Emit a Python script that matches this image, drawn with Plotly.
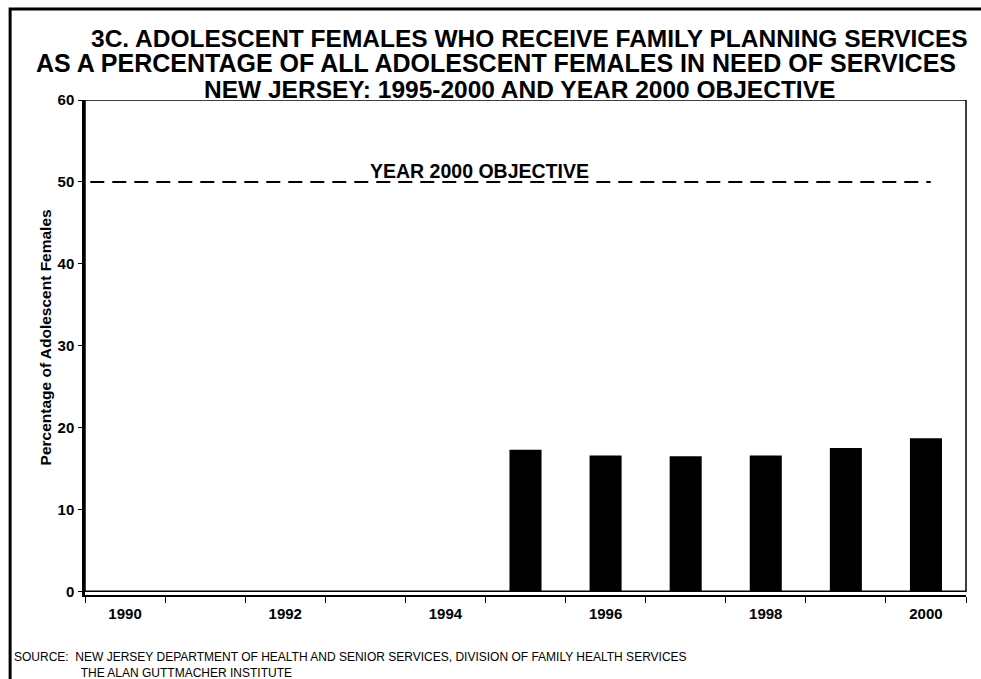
import plotly.graph_objects as go

# Adolescent females receiving family planning services, New Jersey
years = [str(y) for y in range(1990, 2001)]
pct_served = [None, None, None, None, None, 17.3, 16.6, 16.5, 16.6, 17.5, 18.7]
objective_2000 = 50
tick_labels = [y if int(y) % 2 == 0 else "" for y in years]
y_ticks = [0, 10, 20, 30, 40, 50, 60]

FONT = "Liberation Sans, Arial, sans-serif"

fig = go.Figure()
fig.add_trace(go.Bar(
    x=years, y=pct_served, width=0.4,
    marker=dict(color="black", line=dict(color="black", width=0)),
    showlegend=False, hoverinfo="x+y",
))

fig.update_layout(
    width=981, height=679,
    margin=dict(l=85, r=15, t=100, b=84),
    paper_bgcolor="white", plot_bgcolor="white",
    font=dict(family=FONT, color="black"),
    bargap=0.6,
    xaxis=dict(
        type="category", tickmode="array", tickvals=years, ticktext=tick_labels,
        tickson="boundaries", ticks="outside", ticklen=6, tickwidth=1, tickcolor="black",
        showline=True, linecolor="black", linewidth=1.5,
        showgrid=False, zeroline=False, ticklabelstandoff=4,
        tickfont=dict(size=15, family=FONT, color="black", weight="bold"),
        range=[-0.5, 10.5],
    ),
    yaxis=dict(
        range=[-0.45, 60], tickvals=y_ticks, ticks="outside", ticklen=4,
        tickcolor="black", tickwidth=1,
        showline=True, linecolor="black", linewidth=2.5,
        showgrid=False, zeroline=False, ticklabelstandoff=1,
        tickfont=dict(size=15, family=FONT, color="black", weight="bold"),
    ),
)

# y-axis caption
fig.add_annotation(text="<b>Percentage of Adolescent Females</b>", textangle=-90,
                   xref="paper", yref="paper", x=-0.045, y=0.521,
                   xanchor="center", yanchor="middle", showarrow=False,
                   font=dict(size=15.5, family=FONT, color="black"))

# three-line heading
title_lines = [
    ("3C. ADOLESCENT FEMALES WHO RECEIVE FAMILY PLANNING SERVICES", 0.505, "center", 1.125, 24.5),
    ("AS A PERCENTAGE OF ALL ADOLESCENT FEMALES IN NEED OF SERVICES", -0.058, "left", 1.075, 25),
    ("NEW JERSEY: 1995-2000 AND YEAR 2000 OBJECTIVE", 0.493, "center", 1.022, 24.5),
]
for text, xp, anchor, yp, size in title_lines:
    fig.add_annotation(text=f"<b>{text}</b>", xref="paper", yref="paper",
                       x=xp, y=yp, xanchor=anchor, yanchor="middle", showarrow=False,
                       font=dict(size=size, family=FONT, color="black"))

# plot frame sitting on the zero line
fig.add_shape(type="rect", xref="paper", yref="y", x0=0, x1=1, y0=0, y1=60,
              line=dict(color="black", width=1.5), fillcolor="rgba(0,0,0,0)", layer="above")

# year 2000 objective reference line
fig.add_shape(type="line", xref="paper", yref="y", x0=0.006, x1=0.96,
              y0=objective_2000, y1=objective_2000,
              line=dict(color="black", width=2, dash="14px,8px"))
fig.add_annotation(text="<b>YEAR 2000 OBJECTIVE</b>", xref="paper", yref="y",
                   x=0.448, y=objective_2000, xanchor="center", yanchor="bottom",
                   yshift=-2, showarrow=False,
                   font=dict(size=19.5, family=FONT, color="black"))

# outer page frame
fig.add_shape(type="rect", xref="paper", yref="paper",
              x0=-0.085, x1=1.2, y0=-0.4, y1=1.184,
              line=dict(color="black", width=3), fillcolor="rgba(0,0,0,0)")

# source note (second line indented under the first source name)
indent = "&nbsp;" * 20
fig.add_annotation(
    text=("SOURCE:  NEW JERSEY DEPARTMENT OF HEALTH AND SENIOR SERVICES, DIVISION OF FAMILY HEALTH SERVICES"
          f"<br>{indent}THE ALAN GUTTMACHER INSTITUTE"),
    xref="paper", yref="paper", x=-0.083, y=-0.142, xanchor="left", yanchor="middle",
    align="left", showarrow=False, font=dict(size=12, family=FONT, color="black"))

fig.write_html("out.html")
